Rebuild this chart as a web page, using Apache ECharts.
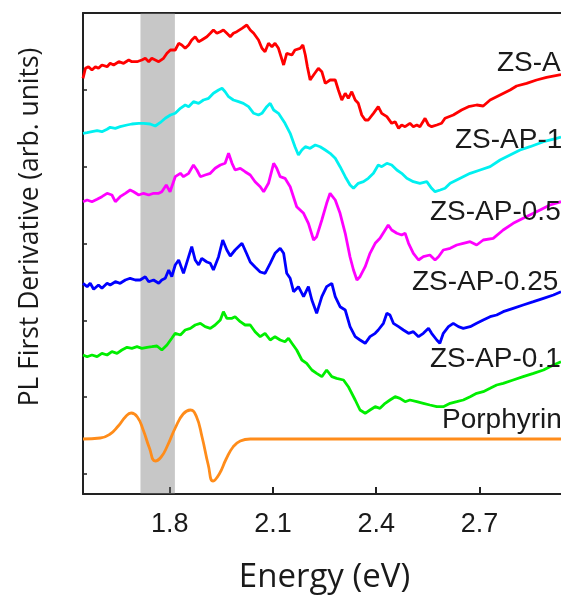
<!DOCTYPE html>
<html>
<head>
<meta charset="utf-8">
<script src="https://cdn.jsdelivr.net/npm/echarts@6/dist/echarts.min.js"></script>
<style>
html,body{margin:0;padding:0;background:#fff;}
#c{width:561px;height:599px;}
</style>
</head>
<body>
<div id="c"></div>
<script>
// ---- data: [energy (eV), PL first derivative (arb. units, vertically offset)] ----
const seriesNames = ['ZS-A', 'ZS-AP-1', 'ZS-AP-0.5', 'ZS-AP-0.25', 'ZS-AP-0.1', 'Porphyrin'];
const xTicks = [1.8, 2.1, 2.4, 2.7];
const yTicks = [20, 96.8, 173.6, 250.4, 327.2, 404];
const band = [1.715, 1.815];

const zsA = [[1.548,415.7],[1.555,425.7],[1.564,427.3],[1.574,424],[1.584,427.3],[1.593,425.7],[1.603,429],[1.618,427.3],[1.627,430.7],[1.637,429],[1.652,432.3],[1.666,430.7],[1.681,434],[1.690,432.3],[1.705,432.3],[1.719,434],[1.729,435.7],[1.739,432.3],[1.748,435.7],[1.758,434],[1.768,432.3],[1.782,435.7],[1.792,440.7],[1.802,444],[1.816,444],[1.826,450.7],[1.835,449],[1.845,445.7],[1.855,449],[1.864,454],[1.874,457.3],[1.884,452.3],[1.893,454],[1.908,457.3],[1.918,460.7],[1.927,464],[1.937,460.7],[1.947,462.3],[1.956,464],[1.966,460.7],[1.976,457.3],[1.985,460.7],[1.995,462.3],[2.010,465.7],[2.024,469],[2.034,464],[2.044,460.7],[2.058,454],[2.068,445.7],[2.077,442.3],[2.087,450.7],[2.097,447.3],[2.106,450.7],[2.116,445.7],[2.121,444],[2.131,429],[2.140,440.7],[2.155,439],[2.164,444],[2.179,445.7],[2.187,449],[2.194,439],[2.200,427.3],[2.208,414],[2.218,419],[2.232,425.7],[2.242,422.3],[2.252,410.7],[2.266,414],[2.281,414],[2.290,404],[2.300,394],[2.310,400.7],[2.319,395.7],[2.329,402.3],[2.339,394],[2.348,390.7],[2.358,379],[2.368,374],[2.377,374],[2.392,380.7],[2.406,387.3],[2.416,380.7],[2.431,377.3],[2.445,370.7],[2.455,372.3],[2.465,365.7],[2.474,369],[2.484,367.3],[2.498,370.7],[2.508,367.3],[2.518,369],[2.527,367.3],[2.542,375.7],[2.552,369],[2.561,367.3],[2.576,369],[2.590,370.7],[2.600,375.7],[2.624,379],[2.648,384],[2.668,387.3],[2.692,389],[2.711,388],[2.731,394],[2.760,399],[2.789,404],[2.808,408],[2.837,410.7],[2.866,414],[2.895,416.7],[2.937,419.5]];

const zsAP1 = [[1.548,360.7],[1.560,361.3],[1.574,362.3],[1.589,363.3],[1.603,362.3],[1.618,364.7],[1.627,366.7],[1.642,365.7],[1.656,367.3],[1.676,369],[1.690,370],[1.710,370.7],[1.724,370.7],[1.743,370],[1.758,368],[1.772,371.3],[1.787,375.7],[1.802,379],[1.816,380.7],[1.831,385.7],[1.845,389],[1.855,387.3],[1.869,392.3],[1.884,390.7],[1.898,394],[1.913,395.7],[1.927,400.7],[1.942,404],[1.952,405.7],[1.961,402.3],[1.971,397.3],[1.985,394],[2.000,392.3],[2.014,390.7],[2.029,387.3],[2.044,380.7],[2.058,379],[2.068,380.7],[2.082,387.3],[2.092,390.7],[2.102,384],[2.116,380.7],[2.121,380.7],[2.135,370.7],[2.150,360.7],[2.164,347.3],[2.174,339],[2.184,344],[2.194,347.3],[2.208,345.7],[2.223,349],[2.237,347.3],[2.252,344],[2.266,340.7],[2.281,335.7],[2.295,327.3],[2.310,317.3],[2.324,309],[2.334,305.7],[2.348,310.7],[2.363,312.3],[2.377,315.7],[2.392,320.7],[2.406,329],[2.416,327.3],[2.431,330.7],[2.445,329],[2.460,324],[2.474,320.7],[2.489,315.7],[2.508,312.3],[2.527,310.7],[2.547,312.3],[2.561,305.7],[2.571,302.3],[2.586,304],[2.600,305.7],[2.615,310.7],[2.644,315.7],[2.673,320.7],[2.702,324],[2.731,327.3],[2.760,334],[2.789,339],[2.818,344],[2.847,347.3],[2.886,352.3],[2.924,355.7],[2.937,357]];

const zsAP05 = [[1.548,292.3],[1.560,294],[1.574,292.3],[1.589,294.7],[1.603,297.3],[1.618,300.7],[1.632,299],[1.642,292.3],[1.656,297.3],[1.671,300.7],[1.685,304],[1.695,302.3],[1.710,299],[1.724,300.7],[1.739,299],[1.753,300.7],[1.768,300.7],[1.777,302.3],[1.790,309],[1.801,302.3],[1.816,317.3],[1.831,320.7],[1.840,317.3],[1.855,320.7],[1.869,329],[1.879,324],[1.889,317.3],[1.903,319],[1.918,320.7],[1.932,325.7],[1.947,329],[1.961,330.7],[1.971,340.7],[1.981,330.7],[1.990,324],[2.005,325.7],[2.019,322.3],[2.034,319],[2.048,312.3],[2.063,307.3],[2.073,302.3],[2.087,310.7],[2.102,330.7],[2.111,325.7],[2.121,317.3],[2.135,315.7],[2.150,307.3],[2.169,287.3],[2.189,280.7],[2.203,270.7],[2.218,254],[2.227,257.3],[2.242,274],[2.256,290.7],[2.266,300.7],[2.281,294],[2.295,280.7],[2.310,260.7],[2.324,237],[2.334,224],[2.344,214],[2.353,217.3],[2.368,227.3],[2.382,240.7],[2.397,250.7],[2.411,255.7],[2.426,264],[2.435,269],[2.445,264],[2.460,260.7],[2.474,259],[2.484,260.7],[2.494,250.7],[2.508,240.7],[2.523,234],[2.537,237.3],[2.556,239],[2.571,234],[2.581,237.3],[2.595,244],[2.615,245.7],[2.634,249],[2.653,250.7],[2.673,252.3],[2.692,249],[2.711,254],[2.740,255.7],[2.769,264],[2.798,270.7],[2.827,275.7],[2.866,282.3],[2.905,289],[2.937,292.3]];

const zsAP025 = [[1.548,210.7],[1.560,207.3],[1.569,210.7],[1.579,204.7],[1.593,209],[1.603,205.7],[1.618,210.7],[1.627,209],[1.642,212.3],[1.656,210.7],[1.671,214],[1.685,215.7],[1.700,214],[1.714,214],[1.729,217.3],[1.739,212.3],[1.753,214],[1.768,210.7],[1.777,214],[1.787,215.7],[1.797,224],[1.806,217.3],[1.816,229],[1.826,234],[1.840,220.7],[1.855,237.3],[1.864,247.3],[1.874,234],[1.884,229],[1.893,235.7],[1.908,232],[1.918,230.7],[1.927,224],[1.942,237.3],[1.954,254],[1.966,244],[1.976,238],[1.990,244],[2.010,250.7],[2.024,240],[2.034,232],[2.048,227],[2.063,222],[2.077,220.7],[2.092,230.7],[2.106,240.7],[2.121,245.7],[2.131,240.7],[2.140,220.7],[2.150,215.7],[2.160,202.3],[2.174,207.3],[2.189,197.3],[2.203,207.3],[2.213,194],[2.227,180.7],[2.242,197.3],[2.256,207.3],[2.271,210.7],[2.281,197.3],[2.295,187.3],[2.310,184],[2.324,167.3],[2.339,157.3],[2.353,154],[2.368,150.7],[2.382,157.3],[2.397,160.7],[2.406,164],[2.421,170.7],[2.431,180.7],[2.440,179],[2.450,170.7],[2.465,167.3],[2.479,164],[2.494,160.7],[2.508,162.3],[2.523,157.3],[2.537,160.7],[2.552,165.7],[2.561,160.7],[2.576,154],[2.585,150.7],[2.595,160.7],[2.610,167.3],[2.624,170.7],[2.639,167.3],[2.653,165.7],[2.673,167.3],[2.692,170.7],[2.711,174],[2.731,177.3],[2.750,179],[2.769,182.3],[2.798,185.7],[2.827,189],[2.857,192.3],[2.886,195.7],[2.915,199],[2.937,202.3]];

const zsAP01 = [[1.548,139],[1.560,137.3],[1.574,139],[1.589,137.3],[1.603,140.7],[1.618,139],[1.632,142.3],[1.647,140.7],[1.661,144],[1.676,146.7],[1.690,145.7],[1.705,147.3],[1.719,145.7],[1.734,146.7],[1.748,147.3],[1.763,148],[1.777,144],[1.792,149],[1.806,155.7],[1.816,160.7],[1.831,159],[1.845,164],[1.860,165.7],[1.874,169],[1.889,170.7],[1.903,167.3],[1.918,165.7],[1.932,169],[1.947,174],[1.956,182.3],[1.966,175.7],[1.981,175.7],[1.990,177.3],[2.005,172.3],[2.019,169],[2.034,169],[2.048,162.3],[2.063,157.3],[2.077,160.7],[2.092,154],[2.106,157.3],[2.121,154],[2.135,152.3],[2.145,155.7],[2.155,150.7],[2.169,144],[2.184,134],[2.198,130.7],[2.213,124],[2.227,120.7],[2.242,117.3],[2.256,124],[2.271,117.3],[2.285,115.7],[2.305,114],[2.319,107.3],[2.339,94],[2.353,84],[2.368,80.7],[2.382,84],[2.397,87.3],[2.411,85.7],[2.426,90.7],[2.440,94],[2.455,97.3],[2.469,95.7],[2.484,92.3],[2.498,94],[2.518,92.3],[2.537,90.7],[2.556,89],[2.576,87.3],[2.595,87.3],[2.615,90.7],[2.634,92.3],[2.653,94],[2.673,97.3],[2.692,100.7],[2.711,102.3],[2.731,105.7],[2.750,109],[2.769,110.7],[2.798,114],[2.827,117.3],[2.857,120.7],[2.886,124],[2.915,129],[2.937,132.3]];

const porphyrin = [[1.548,55],[1.598,56],[1.627,60],[1.6505,68],[1.671,77],[1.688,81],[1.706,77],[1.723,64],[1.741,46],[1.758,33],[1.775,37],[1.793,48],[1.816,66],[1.839,80],[1.860,84],[1.877,78],[1.894,57],[1.912,29],[1.926,13],[1.944,20],[1.964,35],[1.984,47],[2.005,53],[2.034,55],[2.2,55],[2.5,55],[2.937,55]];

const seriesData = [zsA, zsAP1, zsAP05, zsAP025, zsAP01, porphyrin];
const colors = ['#ff0000', '#00f0f0', '#ff00ff', '#0000ff', '#00ee00', '#ff8c1a'];
const labelPos = [[497,63],[455,140],[430,212],[412,282.5],[430,359],[442,420]];

const chart = echarts.init(document.getElementById('c'), null, {renderer:'canvas'});
const series = seriesData.map((d, i) => ({
  name: seriesNames[i],
  type: 'line',
  data: d,
  showSymbol: false,
  symbol: 'none',
  smooth: i === 5 ? 0.5 : false,
  lineStyle: {color: colors[i], width: 2.8},
  z: 2
}));
series.push({
  type: 'line',
  data: [[band[0], 0]],
  showSymbol: false,
  symbol: 'none',
  lineStyle: {width: 0, opacity: 0},
  z: 10,
  markArea: {
    silent: true,
    itemStyle: {color: 'rgba(125,125,125,0.43)'},
    data: [[{xAxis: band[0]}, {xAxis: band[1]}]]
  }
});

const txtColor = '#1a1a1a';
const graphics = seriesNames.map((n, i) => ({
  type: 'text',
  x: labelPos[i][0],
  y: labelPos[i][1],
  z: 20,
  style: {text: n, font: '28px "Liberation Sans", Arial, sans-serif', fill: txtColor, textAlign: 'left', textVerticalAlign: 'middle'}
}));
graphics.push({
  type: 'text', x: 324.5, y: 578, z: 20,
  style: {text: 'Energy (eV)', font: '33px "Open Sans", sans-serif', fill: txtColor, textAlign: 'center', textVerticalAlign: 'middle'}
});
graphics.push({
  type: 'text', x: 30, y: 227, rotation: Math.PI / 2, z: 20,
  style: {text: 'PL First Derivative (arb. units)', font: '26.4px "Open Sans", sans-serif', fill: txtColor, textAlign: 'center', textVerticalAlign: 'middle'}
});

const xMin = 1.548, xMax = 2.937;
chart.setOption({
  animation: false,
  backgroundColor: '#fff',
  grid: {left: 83, top: 13, bottom: 105, right: 0, show: false},
  xAxis: [{
    type: 'value', min: xMin, max: xMax, position: 'bottom',
    axisLine: {show: true, lineStyle: {color: '#222', width: 2}},
    axisTick: {show: true, inside: true, length: 7, customValues: xTicks, lineStyle: {color: '#222', width: 2}},
    axisLabel: {show: true, customValues: xTicks, formatter: v => v.toFixed(1), fontSize: 27, fontFamily: '"Liberation Sans", Arial, sans-serif', color: txtColor, margin: 17},
    splitLine: {show: false}
  }, {
    type: 'value', min: xMin, max: xMax, position: 'top',
    axisLine: {show: true, lineStyle: {color: '#222', width: 2}},
    axisTick: {show: false}, axisLabel: {show: false}, splitLine: {show: false}
  }],
  yAxis: {
    type: 'value', min: 0, max: 481,
    axisLine: {show: true, lineStyle: {color: '#222', width: 2}},
    axisTick: {show: true, inside: true, length: 4, customValues: yTicks, lineStyle: {color: '#222', width: 1.5}},
    axisLabel: {show: false},
    splitLine: {show: false}
  },
  series: series,
  graphic: graphics
});
</script>
</body>
</html>
